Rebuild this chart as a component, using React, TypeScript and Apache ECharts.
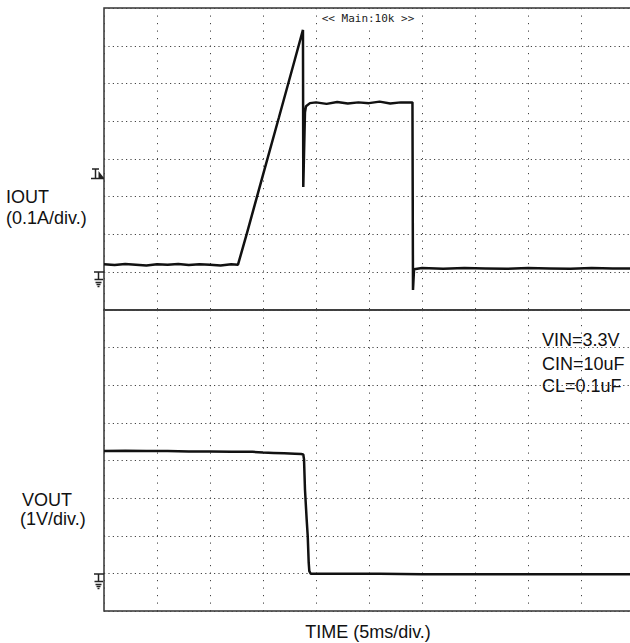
import React, { useEffect, useRef } from "react";
import * as echarts from "echarts";

// IOUT trace (time in ms, current in A)
const ioutTimeMs = [
  0, 1, 2, 3, 4, 5, 6, 7, 8, 9, 10, 11, 12, 12.64,
  13.5, 15, 16.5, 18, 18.77,
  18.8, 18.96, 19.06, 19.43,
  20, 21, 22, 23, 24, 25, 26, 27, 28, 29.1,
  29.15, 29.25,
  30, 32, 34, 36, 38, 40, 42, 44, 46, 48, 50,
];
const ioutAmps = [
  0.021, 0.019, 0.022, 0.020, 0.018, 0.021, 0.020, 0.022, 0.019, 0.021, 0.020, 0.018, 0.021, 0.020,
  0.105, 0.258, 0.41, 0.563, 0.642,
  0.226, 0.424, 0.44, 0.448,
  0.450, 0.446, 0.451, 0.447, 0.450, 0.448, 0.452, 0.447, 0.450, 0.450,
  -0.047, 0.008,
  0.011, 0.009, 0.011, 0.010, 0.009, 0.011, 0.010, 0.009, 0.011, 0.010, 0.010,
];

// VOUT trace (time in ms, voltage in V)
const voutTimeMs = [
  0, 2, 4, 6, 8, 10, 12, 14, 15, 16, 17, 18, 18.6, 18.8,
  18.87, 18.96, 19.12, 19.22, 19.31, 19.37, 19.5,
  22, 26, 30, 34, 38, 42, 46, 50,
];
const voutVolts = [
  3.25, 3.26, 3.25, 3.25, 3.24, 3.24, 3.23, 3.23, 3.21, 3.2, 3.19, 3.18, 3.17, 3.16,
  3.03, 2.23, 1.43, 0.99, 0.29, 0.06, -0.01,
  -0.01, -0.01, -0.02, -0.02, -0.02, -0.02, -0.02, -0.02,
];

const ioutAxis = { min: -0.1, max: 0.7, interval: 0.1 };
const voutAxis = { min: -1, max: 7, interval: 1 };
const timeAxis = { min: 0, max: 50, interval: 5 };

const annotations = ["VIN=3.3V", "CIN=10uF", "CL=0.1uF"];

const FONT = "18px 'Liberation Sans', Arial, sans-serif";

function groundSymbol(y: number) {
  const c = "#222";
  const ls = { stroke: c, lineWidth: 1.5 };
  return {
    type: "group",
    x: 0,
    y,
    z: 100,
    children: [
      { type: "line", shape: { x1: 94, y1: 0, x2: 104, y2: 0 }, style: ls },
      { type: "line", shape: { x1: 98.5, y1: 0, x2: 98.5, y2: 7.5 }, style: ls },
      { type: "line", shape: { x1: 94.5, y1: 7.5, x2: 103, y2: 7.5 }, style: ls },
      { type: "line", shape: { x1: 95.5, y1: 10.5, x2: 101.5, y2: 10.5 }, style: ls },
      { type: "line", shape: { x1: 96.5, y1: 12.5, x2: 100.5, y2: 12.5 }, style: ls },
      { type: "line", shape: { x1: 97.5, y1: 14.5, x2: 99.5, y2: 14.5 }, style: ls },
    ],
  };
}

export default function App() {
  const ref = useRef<HTMLDivElement>(null);

  useEffect(() => {
    if (!ref.current) return;
    const chart = echarts.init(ref.current, undefined, { renderer: "svg" });

    const iData = ioutTimeMs.map((t, i) => [t, ioutAmps[i]]);
    const vData = voutTimeMs.map((t, i) => [t, voutVolts[i]]);

    const xAxisBase = (gridIndex: number) => ({
      type: "value",
      gridIndex,
      ...timeAxis,
      axisLine: { show: false },
      axisTick: { show: false },
      axisLabel: { show: false },
      splitLine: { show: true, lineStyle: { color: "#444", width: 1, type: [1.2, 6.3] } },
    });
    const yAxisBase = (gridIndex: number, ax: any) => ({
      type: "value",
      gridIndex,
      ...ax,
      axisLine: { show: false },
      axisTick: { show: false },
      axisLabel: { show: false },
      splitLine: { show: true, lineStyle: { color: "#444", width: 1, type: [1.2, 3.2] } },
    });

    const textStyle = (text: string, x: number, y: number, align = "left") => ({
      type: "text",
      z: 100,
      style: {
        text,
        x,
        y,
        font: FONT,
        fill: "#111",
        align,
        verticalAlign: "middle",
      },
    });

    chart.setOption({
      animation: false,
      backgroundColor: "#fff",
      grid: [
        { left: 104, top: 8, width: 530, height: 302, show: true, borderColor: "#333", borderWidth: 1.5 },
        { left: 104, top: 310, width: 530, height: 301, show: true, borderColor: "#333", borderWidth: 1.5 },
      ],
      xAxis: [xAxisBase(0), xAxisBase(1)],
      yAxis: [yAxisBase(0, ioutAxis), yAxisBase(1, voutAxis)],
      series: [
        {
          type: "line",
          xAxisIndex: 0,
          yAxisIndex: 0,
          data: iData,
          showSymbol: false,
          lineStyle: { color: "#111", width: 2.5 },
          z: 5,
        },
        {
          type: "line",
          xAxisIndex: 1,
          yAxisIndex: 1,
          data: vData,
          showSymbol: false,
          lineStyle: { color: "#111", width: 2.5 },
          z: 5,
        },
      ],
      graphic: [
        textStyle("IOUT", 6, 197),
        textStyle("(0.1A/div.)", 6, 218),
        textStyle("VOUT", 22, 500),
        textStyle("(1V/div.)", 20, 519),
        ...annotations.map((a, i) => textStyle(a, 542, [340, 364, 386][i])),
        textStyle("TIME (5ms/div.)", 368, 632, "center"),
        {
          type: "text",
          z: 100,
          style: {
            text: "<< Main:10k >>",
            x: 368,
            y: 18,
            font: "11px 'DejaVu Sans Mono', monospace",
            fill: "#222",
            align: "center",
            verticalAlign: "middle",
            backgroundColor: "#fff",
            padding: [3, 2],
          },
        },
        // trigger marker
        {
          type: "group",
          z: 100,
          children: [
            { type: "line", shape: { x1: 92, y1: 169, x2: 99, y2: 169 }, style: { stroke: "#222", lineWidth: 1.5 } },
            { type: "line", shape: { x1: 95.5, y1: 169, x2: 95.5, y2: 178 }, style: { stroke: "#222", lineWidth: 1.5 } },
            { type: "line", shape: { x1: 91, y1: 178.5, x2: 104, y2: 178.5 }, style: { stroke: "#222", lineWidth: 1.5 } },
            { type: "polygon", shape: { points: [[98.5, 171], [104, 178], [98.5, 178]] }, style: { fill: "#222" } },
          ],
        },
        groundSymbol(272),
        groundSymbol(574),
      ],
    });

    return () => chart.dispose();
  }, []);

  return (
    <div
      style={{
        position: "absolute",
        left: 0,
        top: 0,
        width: 630,
        height: 643,
        overflow: "hidden",
        background: "#fff",
      }}
    >
      <div ref={ref} style={{ width: 640, height: 643 }} />
    </div>
  );
}
